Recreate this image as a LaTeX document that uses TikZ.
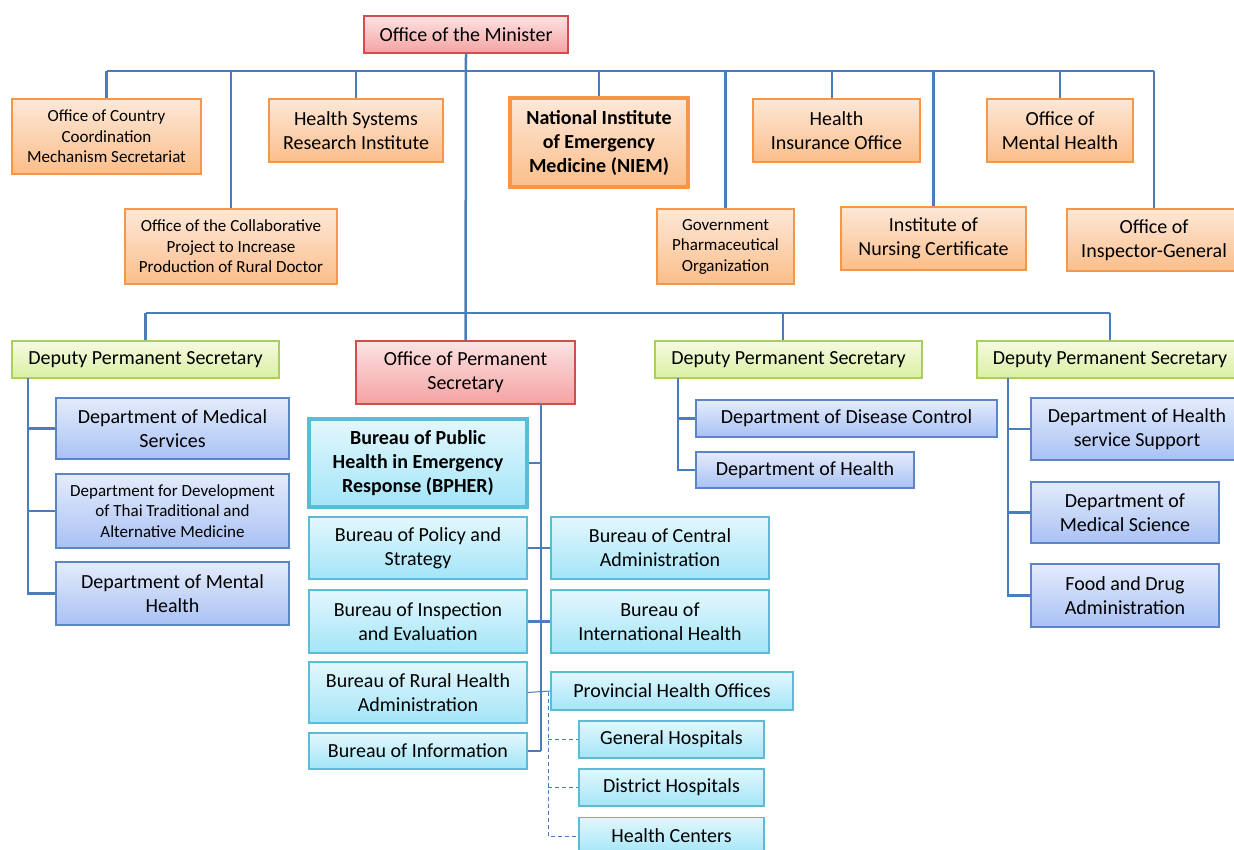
\documentclass[tikz,border=0pt]{standalone}
\usepackage{fontspec}
\setmainfont{Carlito}

\definecolor{linkblue}{HTML}{4A7EBB}
\definecolor{orangeline}{HTML}{F79646}
\definecolor{orangetop}{HTML}{FDE8D8}
\definecolor{orangebot}{HTML}{FBBE8A}
\definecolor{redline}{HTML}{D04F4D}
\definecolor{redtop}{HTML}{FDE3E3}
\definecolor{redbot}{HTML}{F5A2A2}
\definecolor{greenline}{HTML}{AACF5C}
\definecolor{greentop}{HTML}{F5FBE1}
\definecolor{greenbot}{HTML}{DAEFA3}
\definecolor{deptline}{HTML}{5B85C8}
\definecolor{depttop}{HTML}{E4ECFC}
\definecolor{deptbot}{HTML}{A9C1F4}
\definecolor{burline}{HTML}{5BBCD6}
\definecolor{burtop}{HTML}{E3F7FD}
\definecolor{burbot}{HTML}{A3E5F8}

\begin{document}
\begin{tikzpicture}[x=1pt, y=-1pt,
    box/.style={draw, align=center, inner sep=2pt, line width=1.3pt, font=\fontsize{20}{24}\selectfont},
    small/.style={font=\fontsize{17}{20.5}\selectfont},
    strong/.style={font=\fontsize{20}{24}\selectfont\bfseries, line width=3.5pt},
    orangebox/.style={box, draw=orangeline, top color=orangetop, bottom color=orangebot},
    redbox/.style={box, draw=redline, top color=redtop, bottom color=redbot},
    greenbox/.style={box, draw=greenline, top color=greentop, bottom color=greenbot},
    deptbox/.style={box, draw=deptline, top color=depttop, bottom color=deptbot},
    burbox/.style={box, draw=burline, top color=burtop, bottom color=burbot},
    link/.style={draw=linkblue, line width=2.5pt},
    thinlink/.style={draw=linkblue, line width=1pt},
    dashlink/.style={draw=linkblue, line width=1pt, dash pattern=on 4pt off 3pt}]
    \useasboundingbox (0,0) rectangle (1234,849);
    \clip (0,0) rectangle (1234,849);

    \node[redbox, minimum width=204, minimum height=37] (minister) at (466,34.5) {Office of the Minister};

    \node[orangebox, small, minimum width=189, minimum height=75] (cc) at (106.5,136.5) {Office of Country\\Coordination\\Mechanism Secretariat};
    \node[orangebox, small, minimum width=212, minimum height=75] (collab) at (231,246.5) {Office of the Collaborative\\Project to Increase\\Production of Rural Doctor};
    \node[orangebox, minimum width=174, minimum height=63] (hsri) at (356,130.5) {Health Systems\\Research Institute};
    \node[orangebox, strong, minimum width=178, minimum height=89] (niem) at (599,142.5) {National Institute\\of Emergency\\Medicine (NIEM)};
    \node[orangebox, small, minimum width=137, minimum height=75] (gpo) at (725.5,246.5) {Government\\Pharmaceutical\\Organization};
    \node[orangebox, minimum width=167, minimum height=63] (hio) at (836.5,130.5) {Health\\Insurance Office};
    \node[orangebox, minimum width=185, minimum height=63] (nursing) at (933.5,238.5) {Institute of\\Nursing Certificate};
    \node[orangebox, minimum width=146, minimum height=63] (omh) at (1060,130.5) {Office of\\Mental Health};
    \node[orangebox, minimum width=174, minimum height=62] (ig) at (1154,240) {Office of\\Inspector-General};

    \node[greenbox, minimum width=267, minimum height=37] (dps1) at (145.5,359.5) {Deputy Permanent Secretary};
    \node[redbox, minimum width=219, minimum height=63] (ops) at (465.5,372.5) {Office of Permanent\\Secretary};
    \node[greenbox, minimum width=267, minimum height=37] (dps2) at (788.5,359.5) {Deputy Permanent Secretary};
    \node[greenbox, minimum width=266, minimum height=37] (dps3) at (1110,359.5) {Deputy Permanent Secretary};

    \node[deptbox, minimum width=233, minimum height=61] (dms) at (172.5,428.5) {Department of Medical\\Services};
    \node[deptbox, small, minimum width=233, minimum height=74] (dtm) at (172.5,511) {Department for Development\\of Thai Traditional and\\Alternative Medicine};
    \node[deptbox, minimum width=233, minimum height=63] (dmh) at (172.5,593.5) {Department of Mental\\Health};

    \node[deptbox, minimum width=301, minimum height=37] (ddc) at (846.5,418.5) {Department of Disease Control};
    \node[deptbox, minimum width=218, minimum height=36] (doh) at (805,470) {Department of Health};

    \node[deptbox, minimum width=212, minimum height=62] (dhss) at (1137,429) {Department of Health\\service Support};
    \node[deptbox, minimum width=188, minimum height=61] (dmsc) at (1125,512.5) {Department of\\Medical Science};
    \node[deptbox, minimum width=188, minimum height=63] (fda) at (1125,595.5) {Food and Drug\\Administration};

    \node[burbox, strong, minimum width=218, minimum height=88] (bpher) at (418,463) {Bureau of Public\\Health in Emergency\\Response (BPHER)};
    \node[burbox, minimum width=218, minimum height=62] (bps) at (418,548) {Bureau of Policy and\\Strategy};
    \node[burbox, minimum width=218, minimum height=62] (bca) at (660,548) {Bureau of Central\\Administration};
    \node[burbox, minimum width=218, minimum height=63] (bie) at (418,621.5) {Bureau of Inspection\\and Evaluation};
    \node[burbox, minimum width=218, minimum height=63] (bih) at (660,621.5) {Bureau of\\International Health};
    \node[burbox, minimum width=218, minimum height=61] (brh) at (418,692.5) {Bureau of Rural Health\\Administration};
    \node[burbox, minimum width=242, minimum height=38] (pho) at (672,691) {Provincial Health Offices};
    \node[burbox, minimum width=218, minimum height=36] (binf) at (418,751) {Bureau of Information};
    \node[burbox, minimum width=185, minimum height=37] (gh) at (671.5,739.5) {General Hospitals};
    \node[burbox, minimum width=185, minimum height=37] (dh) at (671.5,787.5) {District Hospitals};
    \node[burbox, minimum width=185, minimum height=37] (hc) at (671.5,836) {Health Centers};

    \coordinate (busA) at (466,71);
    \coordinate (busB) at (466,313);
    \coordinate (spA) at (28,378);
    \coordinate (spB) at (678,378);
    \coordinate (spC) at (1008,378);
    \coordinate (spO) at (541,404);
    \coordinate (spD) at (548,692);

    \draw[link] (minister.south) -- (ops.north);
    \draw[link] (cc.north |- busA) -- (ig.north |- busA);
    \foreach \n in {cc,collab,hsri,niem,gpo,nursing,omh,ig}
        \draw[link] (\n.north) -- (\n.north |- busA);
    \draw[link] ([xshift=-4.5]hio.north) -- ([xshift=-4.5]hio.north |- busA);
    \draw[link] (dps1.north |- busB) -- (dps3.north |- busB);
    \foreach \n in {dps1,dps3}
        \draw[link] (\n.north) -- (\n.north |- busB);
    \draw[link] ([xshift=-5.5]dps2.north) -- ([xshift=-5.5]dps2.north |- busB);

    \draw[link] (spA) |- (dmh.west);
    \foreach \n in {dms,dtm}
        \draw[link] (spA |- \n.west) -- (\n.west);
    \draw[link] (spB) |- (doh.west);
    \draw[link] (spB |- ddc.west) -- (ddc.west);
    \draw[link] (spC) |- (fda.west);
    \foreach \n in {dhss,dmsc}
        \draw[link] (spC |- \n.west) -- (\n.west);

    \draw[link] (spO) -- (spO |- binf.east);
    \foreach \n in {bpher,binf}
        \draw[link] (\n.east) -- (\n.east -| spO);
    \draw[link] (bps.east) -- (bca.west);
    \draw[link] (bie.east) -- (bih.west);
    \draw[thinlink] (brh.east) -- (pho.west);
    \draw[dashlink] (spD) |- (hc.west);
    \foreach \n in {gh,dh}
        \draw[dashlink] (spD |- \n.west) -- (\n.west);
\end{tikzpicture}
\end{document}
